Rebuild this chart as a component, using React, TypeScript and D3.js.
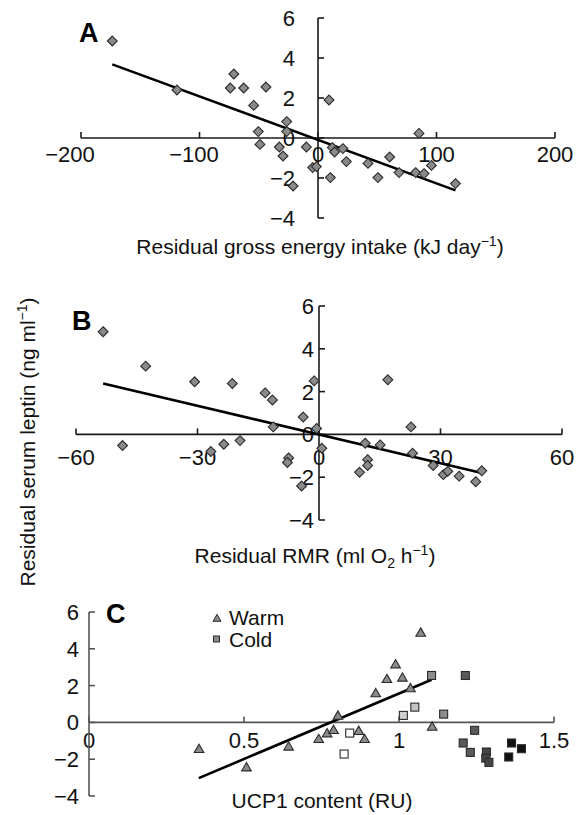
import React, { useEffect, useRef } from "react";
import * as d3 from "d3";

// panel A: residual gross energy intake vs residual leptin
const aX = [-173.6, -119, -71, -74, -62.7, -43.9, -54.3, -26.4, -26.4, -50.4, -49, -32.6, -29.5, -9.8, -21, -4.5, -1.4,
  9.3, 85.2, 12.1, 14, 21, 23.9, 10.4, 42.2, 50.6, 60.5, 68.4, 82.4, 89.5, 95.7, 116];
const aY = [4.85, 2.4, 3.2, 2.5, 2.5, 2.55, 1.63, 0.82, 0.32, 0.32, -0.32, -0.45, -0.9, -0.45, -2.4, -1.48, -1.43,
  1.9, 0.23, -0.48, -0.7, -0.53, -1.18, -1.98, -1.27, -1.98, -0.95, -1.73, -1.73, -1.78, -1.37, -2.28];
const aFitX = [-173.6, 116];
const aFitY = [3.68, -2.62];
const aXTicks = [-200, -100, 0, 100, 200];

// panel B: residual RMR
const bX = [-53.3, -42.8, -48.5, -30.7, -21.4, -26.7, -23.5, -19.5, -13.3, -11.5, -11.3, -7.5, -7.8, -3.9, -4.3, -1.2, -0.6, 0.7,
  17, 22.7, 11.4, 15.1, 12, 12, 10, 23.1, 28.2, 30.7, 31.8, 34.6, 38.7, 40.2];
const bY = [4.8, 3.19, -0.52, 2.46, 2.38, -0.8, -0.46, -0.29, 1.94, 1.61, 0.35, -1.1, -1.31, 0.81, -2.41, 2.5, 0.28, -0.65,
  2.55, 0.35, -0.41, -0.49, -1.18, -1.45, -1.77, -0.88, -1.45, -1.88, -1.72, -1.95, -2.21, -1.7];
const bFitX = [-53.3, 40.2];
const bFitY = [2.38, -1.8];
const bXTicks = [-60, -30, 0, 30, 60];

// panel C: UCP1 content
const warmX = [0.355, 0.508, 0.644, 0.741, 0.768, 0.789, 0.803, 0.87, 0.889, 0.925, 0.961, 0.989, 1.011, 1.037, 1.07, 1.107];
const warmY = [-1.43, -2.43, -1.3, -0.89, -0.58, -0.4, 0.38, -0.45, -0.89, 1.6, 2.37, 3.17, 2.45, 1.87, 4.89, -0.22];
const coldX = [0.823, 0.841, 1.014, 1.051, 1.105, 1.144, 1.214, 1.244, 1.207, 1.23, 1.282, 1.28, 1.29, 1.363, 1.354, 1.395];
const coldY = [-1.72, -0.58, 0.38, 0.83, 2.55, 0.45, 2.55, -0.43, -1.12, -1.63, -1.61, -1.94, -2.17, -1.12, -1.88, -1.43];
const coldShade = ["#ffffff", "#ffffff", "#d0d0d0", "#c4c4c4", "#8c8c8c", "#8c8c8c", "#5a5a5a", "#5a5a5a", "#5a5a5a", "#5a5a5a",
  "#444444", "#444444", "#444444", "#111111", "#111111", "#111111"];
const cFitX = [0.354, 1.105];
const cFitY = [-3.03, 2.32];
const cXTicks = [0, 0.5, 1, 1.5];
const cXLabels = ["0", "0.5", "1", "1.5"];

const yTicks = [-4, -2, 0, 2, 4, 6];

const FONT = "'Liberation Sans', Arial, Helvetica, sans-serif";

function drawPanel(svg: any, o: any) {
  const x = d3.scaleLinear().domain(o.xDomain).range(o.xRange);
  const y = d3.scaleLinear().domain([-4, 6]).range(o.yRange);
  const g = svg.append("g");
  const ax = x(0);
  const ay = y(0);

  // x axis
  g.append("line").attr("x1", o.xRange[0]).attr("x2", o.xRange[1]).attr("y1", ay).attr("y2", ay)
    .attr("stroke", o.axisColor).attr("stroke-width", 1.6);
  o.xTicks.forEach((t: number, i: number) => {
    g.append("line").attr("x1", x(t)).attr("x2", x(t)).attr("y1", ay).attr("y2", ay - 6)
      .attr("stroke", o.axisColor).attr("stroke-width", 1.6);
    // negative labels sit a little left of their tick in panel A
    const shift = t < 0 && o.negShift ? o.negShift * (t / o.xDomain[0]) : 0;
    g.append("text").attr("x", x(t) + shift).attr("y", ay + o.xLabelDy).attr("text-anchor", "middle")
      .style("font-size", "22px").style("font-family", FONT).attr("fill", "#111")
      .text(o.xLabels ? o.xLabels[i] : (t < 0 ? "\u2212" + Math.abs(t) : String(t)));
  });

  // y axis
  g.append("line").attr("x1", ax).attr("x2", ax).attr("y1", y(-4)).attr("y2", y(6))
    .attr("stroke", o.axisColor).attr("stroke-width", 1.6);
  yTicks.forEach((t) => {
    g.append("line").attr("x1", ax).attr("x2", ax + 6).attr("y1", y(t)).attr("y2", y(t))
      .attr("stroke", o.axisColor).attr("stroke-width", 1.6);
    g.append("text").attr("x", ax - o.yLabelDx).attr("y", y(t) + 8).attr("text-anchor", "end")
      .style("font-size", "22px").style("font-family", FONT).attr("fill", "#111")
      .text(t < 0 ? "\u2212" + Math.abs(t) : String(t));
  });

  // fit line
  const line = d3.line<number>().x((d, i) => x(o.fitX[i])).y((d) => y(d));
  g.append("path").datum(o.fitY).attr("fill", "none").attr("stroke", "#000")
    .attr("stroke-width", 2.6).attr("d", line);

  return { g, x, y };
}

function diamonds(g: any, x: any, y: any, xs: number[], ys: number[]) {
  const sym = d3.symbol().type(d3.symbolDiamond2).size(62);
  g.selectAll(".pt").data(xs).enter().append("path")
    .attr("d", sym)
    .attr("transform", (d: number, i: number) => `translate(${x(d)},${y(ys[i])})`)
    .attr("fill", "#8a8a8a").attr("stroke", "#2a2a2a").attr("stroke-width", 1.1);
}

function title(svg: any, x: number, y: number, parts: [string, number][], rotate = false) {
  const t = svg.append("text").attr("text-anchor", "middle")
    .style("font-size", "21px").style("font-family", FONT).attr("fill", "#111");
  if (rotate) t.attr("transform", `translate(${x},${y}) rotate(-90)`);
  else t.attr("x", x).attr("y", y);
  let shift = 0;
  parts.forEach(([s, dy]) => {
    const sp = t.append("tspan").attr("dy", dy - shift).text(s);
    if (dy !== 0) sp.style("font-size", "14px");
    shift = dy;
  });
}

const App = () => {
  const ref = useRef<SVGSVGElement>(null);

  useEffect(() => {
    const svg = d3.select(ref.current);
    svg.selectAll("*").remove();

    // A
    const A = drawPanel(svg, {
      xDomain: [-200, 200], xRange: [81, 555], yRange: [218, 18], negShift: -11,
      xTicks: aXTicks, fitX: aFitX, fitY: aFitY, axisColor: "#1a1a1a", xLabelDy: 24, yLabelDx: 23,
    });
    diamonds(A.g, A.x, A.y, aX, aY);
    svg.append("text").attr("x", 79).attr("y", 42).text("A")
      .style("font-size", "27px").style("font-weight", "bold").style("font-family", FONT);
    title(svg, 320, 254, [["Residual gross energy intake (kJ day", 0], ["\u22121", -8], [")", 0]]);

    // B
    const B = drawPanel(svg, {
      xDomain: [-60, 60], xRange: [76, 562], yRange: [520, 306],
      xTicks: bXTicks, fitX: bFitX, fitY: bFitY, axisColor: "#1a1a1a", xLabelDy: 31, yLabelDx: 5,
    });
    diamonds(B.g, B.x, B.y, bX, bY);
    svg.append("text").attr("x", 72).attr("y", 330).text("B")
      .style("font-size", "27px").style("font-weight", "bold").style("font-family", FONT);
    title(svg, 315, 563, [["Residual RMR (ml O", 0], ["2", 5], [" h", 0], ["\u22121", -8], [")", 0]]);

    // shared y title
    title(svg, 35, 442, [["Residual serum leptin (ng ml", 0], ["\u22121", -8], [")", 0]], true);

    // C
    const C = drawPanel(svg, {
      xDomain: [0, 1.5], xRange: [89, 554], yRange: [796, 612],
      xTicks: cXTicks, xLabels: cXLabels, fitX: cFitX, fitY: cFitY, axisColor: "#555", xLabelDy: 26, yLabelDx: 10,
    });
    const tri = d3.symbol().type(d3.symbolTriangle).size(40);
    C.g.selectAll(".warm").data(warmX).enter().append("path")
      .attr("d", tri)
      .attr("transform", (d: number, i: number) => `translate(${C.x(d)},${C.y(warmY[i]) + 1})`)
      .attr("fill", "#8a8a8a").attr("stroke", "#2a2a2a").attr("stroke-width", 1.1);
    C.g.selectAll(".cold").data(coldX).enter().append("rect")
      .attr("x", (d: number) => C.x(d) - 4).attr("y", (d: number, i: number) => C.y(coldY[i]) - 4)
      .attr("width", 8).attr("height", 8)
      .attr("fill", (d: number, i: number) => coldShade[i]).attr("stroke", "#2a2a2a").attr("stroke-width", 1.1);
    svg.append("text").attr("x", 106).attr("y", 623).text("C")
      .style("font-size", "27px").style("font-weight", "bold").style("font-family", FONT);

    // legend
    svg.append("path").attr("d", d3.symbol().type(d3.symbolTriangle).size(28)())
      .attr("transform", "translate(217,619)").attr("fill", "#8a8a8a").attr("stroke", "#2a2a2a");
    svg.append("text").attr("x", 229).attr("y", 625).text("Warm")
      .style("font-size", "21px").style("font-family", FONT).attr("fill", "#111");
    svg.append("rect").attr("x", 213.5).attr("y", 636).attr("width", 6).attr("height", 6)
      .attr("fill", "#8a8a8a").attr("stroke", "#2a2a2a");
    svg.append("text").attr("x", 229).attr("y", 647).text("Cold")
      .style("font-size", "21px").style("font-family", FONT).attr("fill", "#111");

    title(svg, 322, 808, [["UCP1 content (RU)", 0]]);
  }, []);

  return (
    <div style={{ position: "absolute", left: 0, top: 0 }}>
      <svg ref={ref} width={582} height={815} style={{ display: "block", background: "#fff" }} />
    </div>
  );
};

export default App;
